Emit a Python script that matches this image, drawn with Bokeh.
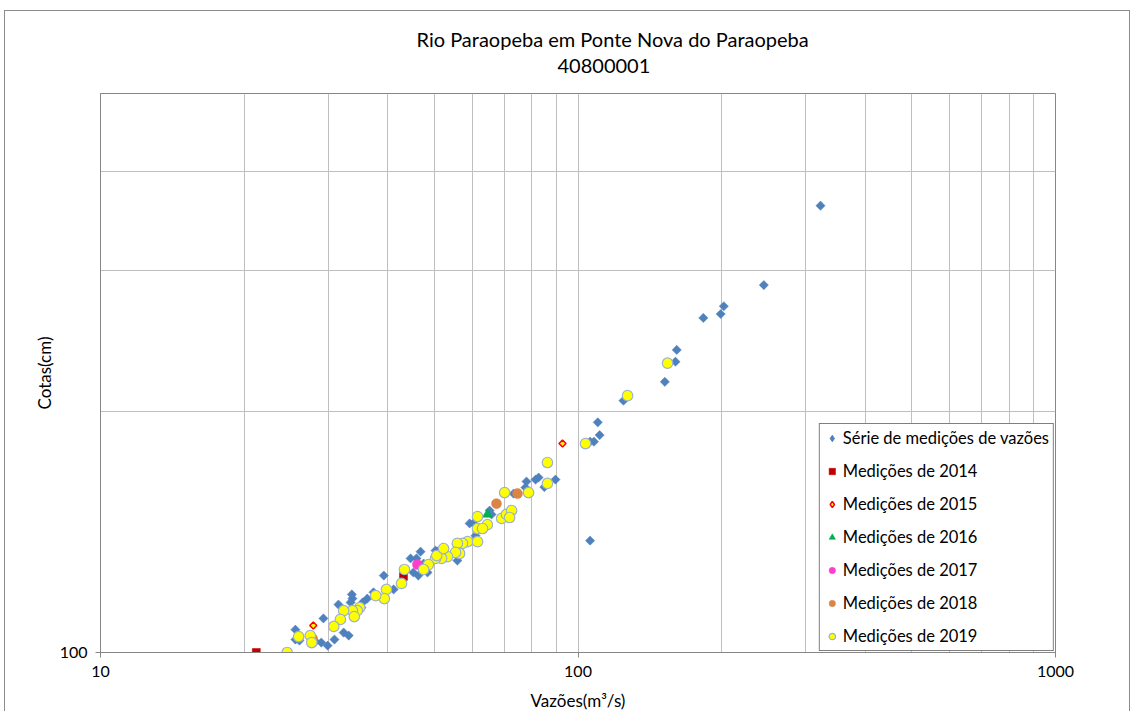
import math
from bokeh.plotting import figure
from bokeh.models import FixedTicker, Legend, LegendItem, Title, Range1d
from bokeh.embed import file_html
from bokeh.resources import INLINE

# ---- data: discharge Q (m3/s) and stage H (cm) ----
serie_q = [322, 245, 202, 199, 183, 161, 160, 152, 124.5, 110, 111, 108, 106, 106, 89.7,
           85, 82.7, 81.5, 78, 77.6, 73.3, 65.3, 65.9, 59.3, 60.4, 61, 55.9, 52, 50.3, 46.8,
           44.6, 45.9, 47.5, 45.2, 46.3, 39.2, 41.1, 37.3, 36.2, 35.4, 35.2, 33.6, 33.7, 33.4,
           31.5, 29.3, 32.3, 33.1, 30.9, 29, 29.9, 25.6, 25.6, 26.1, 28.2, 48.4, 50.8]
serie_h = [362, 288, 271, 265, 262, 239, 231, 218, 206.5, 194, 187, 183.5, 183.5, 138, 164.5,
           161, 165.5, 164.5, 163.6, 160.8, 158, 150.5, 148.8, 145, 145, 140, 130.3, 135.3, 134.1,
           133.7, 131.1, 131.1, 129.2, 125.9, 124.8, 124.8, 119.9, 118.9, 116.8, 115.5, 113.8,
           118.2, 116.8, 115.5, 114.8, 110.3, 105.9, 105, 103.8, 102.9, 102, 106.8, 103.8, 103.5,
           103.2, 125.9, 133.7]

q2014 = [21.2, 43.1]
h2014 = [100, 124.5]
q2015 = [27.9, 92.8]
h2015 = [108.1, 182.5]
q2016 = [64.6]
h2016 = [148.8]
q2017 = [46.1]
h2017 = [128.8]
q2018 = [67.5, 74.7, 27.8]
h2018 = [153.5, 158, 104.1]
q2019 = [154, 127, 103.7, 86.3, 86.3, 78.8, 70.2, 61.6, 64.6, 61.6, 63.1, 69.2, 70.8, 72.6,
         71.9, 58.7, 57.3, 55.9, 61.6, 56.5, 55.4, 53.3, 51.8, 50.3, 50.6, 52.3, 48.6, 47.5,
         43.3, 42.7, 39.7, 39.3, 37.7, 34.9, 34.5, 33.7, 32.3, 34, 31.8, 30.8, 27.5, 27.7, 26, 24.6]
h2019 = [230, 209.5, 182.5, 172.8, 162.7, 158.5, 158.5, 147.9, 144.5, 142.9, 142.9, 147.1,
         148.8, 150.5, 147.5, 137.6, 136.9, 136.9, 137.6, 133, 133.4, 131.8, 131.1, 131.1, 132.2,
         134.9, 128.8, 127, 127, 122, 119.9, 116.8, 117.8, 113.8, 112.8, 112.8, 112.8, 110.9,
         110, 107.8, 105, 102.9, 104.7, 100]

x_major = [10, 100, 1000]
x_minor = [20, 30, 40, 50, 60, 70, 80, 90, 200, 300, 400, 500, 600, 700, 800, 900]
y_major = [100]
y_minor = [200, 300, 400]

title1 = "Rio Paraopeba em Ponte Nova do Paraopeba"
title2 = "40800001"
FONT = "Lato"

p = figure(x_axis_type="log", y_axis_type="log",
           x_range=Range1d(10, 1000), y_range=Range1d(100, 500),
           frame_width=955, frame_height=559,
           min_border_left=95, min_border_right=74, min_border_top=82, min_border_bottom=56,
           output_backend="svg", toolbar_location=None,
           background_fill_color="white", border_fill_color="white")

# titles (stacked: spacer closest to frame, then subtitle, then main title outermost)
p.add_layout(Title(text=" ", text_font_size="1px", standoff=11), "above")
p.add_layout(Title(text=title2, align="left", offset=457, text_font=FONT,
                   text_font_size="20px", text_font_style="normal",
                   text_color="#000000", standoff=13), "above")
p.title.text = title1
p.title.align = "left"
p.title.offset = 316
p.title.text_font = FONT
p.title.text_font_size = "20px"
p.title.text_font_style = "normal"
p.title.text_color = "#000000"
p.title.standoff = 0

p.outline_line_color = "#868686"
p.outline_line_width = 1

# axes
xa = p.xaxis[0]
xa.ticker = FixedTicker(ticks=x_major, minor_ticks=x_minor)
xa.major_label_overrides = {v: str(v) for v in x_major}
xa.axis_label = "Vazões(m³/s)"
ya = p.yaxis[0]
ya.ticker = FixedTicker(ticks=y_major, minor_ticks=y_minor)
ya.major_label_overrides = {v: str(v) for v in y_major}
ya.axis_label = "Cotas(cm)"
for ax in (xa, ya):
    ax.axis_line_color = "#868686"
    ax.major_tick_line_color = "#868686"
    ax.major_tick_out = 5
    ax.major_tick_in = 0
    ax.minor_tick_out = 0
    ax.minor_tick_in = 0
    ax.major_label_text_font = FONT
    ax.major_label_text_font_size = "16px"
    ax.major_label_text_color = "#000000"
    ax.axis_label_text_font = FONT
    ax.axis_label_text_font_size = "17px"
    ax.axis_label_text_font_style = "normal"
    ax.axis_label_text_color = "#000000"
xa.major_label_standoff = 8
xa.axis_label_standoff = 10
ya.major_label_standoff = 8
ya.axis_label_standoff = 2

for g in (p.xgrid[0], p.ygrid[0]):
    g.grid_line_color = "#BFBFBF"
    g.grid_line_width = 1
    g.minor_grid_line_color = "#BFBFBF"
    g.minor_grid_line_width = 1

ang = math.pi / 4
r0 = p.scatter(serie_q, serie_h, marker="square", angle=ang, size=6.5,
               fill_color="#4F81BD", line_color="#4F81BD", line_width=0.5)
r1 = p.scatter(q2014, h2014, marker="square", size=8,
               fill_color="#C00000", line_color="#C00000", line_width=0.5)
r2 = p.scatter(q2015, h2015, marker="square", angle=ang, size=5,
               fill_color="#FFFF00", line_color="#FF0000", line_width=1.5)
r3 = p.scatter(q2016, h2016, marker="triangle", size=10,
               fill_color="#00B050", line_color="#00B050", line_width=0.5)
r4 = p.scatter(q2017, h2017, marker="circle", size=10,
               fill_color="#FF3DCC", line_color="#FF3DCC", line_width=0.5)
r5 = p.scatter(q2018, h2018, marker="circle", size=10,
               fill_color="#DB8445", line_color="#DB8445", line_width=0.5)
r6 = p.scatter(q2019, h2019, marker="circle", size=10.5,
               fill_color="#FFFF00", line_color="#9DB2CC", line_width=1.2)

# hidden twins used only for the legend swatches (diamond glyphs)
l0 = p.scatter(serie_q, serie_h, marker="diamond", size=11,
               fill_color="#4F81BD", line_color="#4F81BD", visible=False)
l2 = p.scatter(q2015, h2015, marker="diamond", size=10,
               fill_color="#FFFF00", line_color="#FF0000", line_width=1.5, visible=False)

legend = Legend(items=[
    LegendItem(label="Série de medições de vazões", renderers=[l0]),
    LegendItem(label="Medições de 2014", renderers=[r1]),
    LegendItem(label="Medições de 2015", renderers=[l2]),
    LegendItem(label="Medições de 2016", renderers=[r3]),
    LegendItem(label="Medições de 2017", renderers=[r4]),
    LegendItem(label="Medições de 2018", renderers=[r5]),
    LegendItem(label="Medições de 2019", renderers=[r6]),
], location="bottom_right")
legend.margin = 1
legend.padding = 4
legend.spacing = 13
legend.glyph_width = 16
legend.glyph_height = 20
legend.label_height = 20
legend.label_standoff = 3
legend.label_text_font = FONT
legend.label_text_font_size = "16.5px"
legend.label_text_color = "#000000"
legend.border_line_color = "#000000"
legend.border_line_width = 1
legend.background_fill_color = "white"
legend.background_fill_alpha = 1
legend.inactive_fill_alpha = 0
legend.click_policy = "none"
p.add_layout(legend, "center")

p.styles = {"border": "1px solid #8C8C8C", "margin-left": "4px", "margin-top": "10px"}

open("out.html", "w").write(file_html(p, INLINE))
